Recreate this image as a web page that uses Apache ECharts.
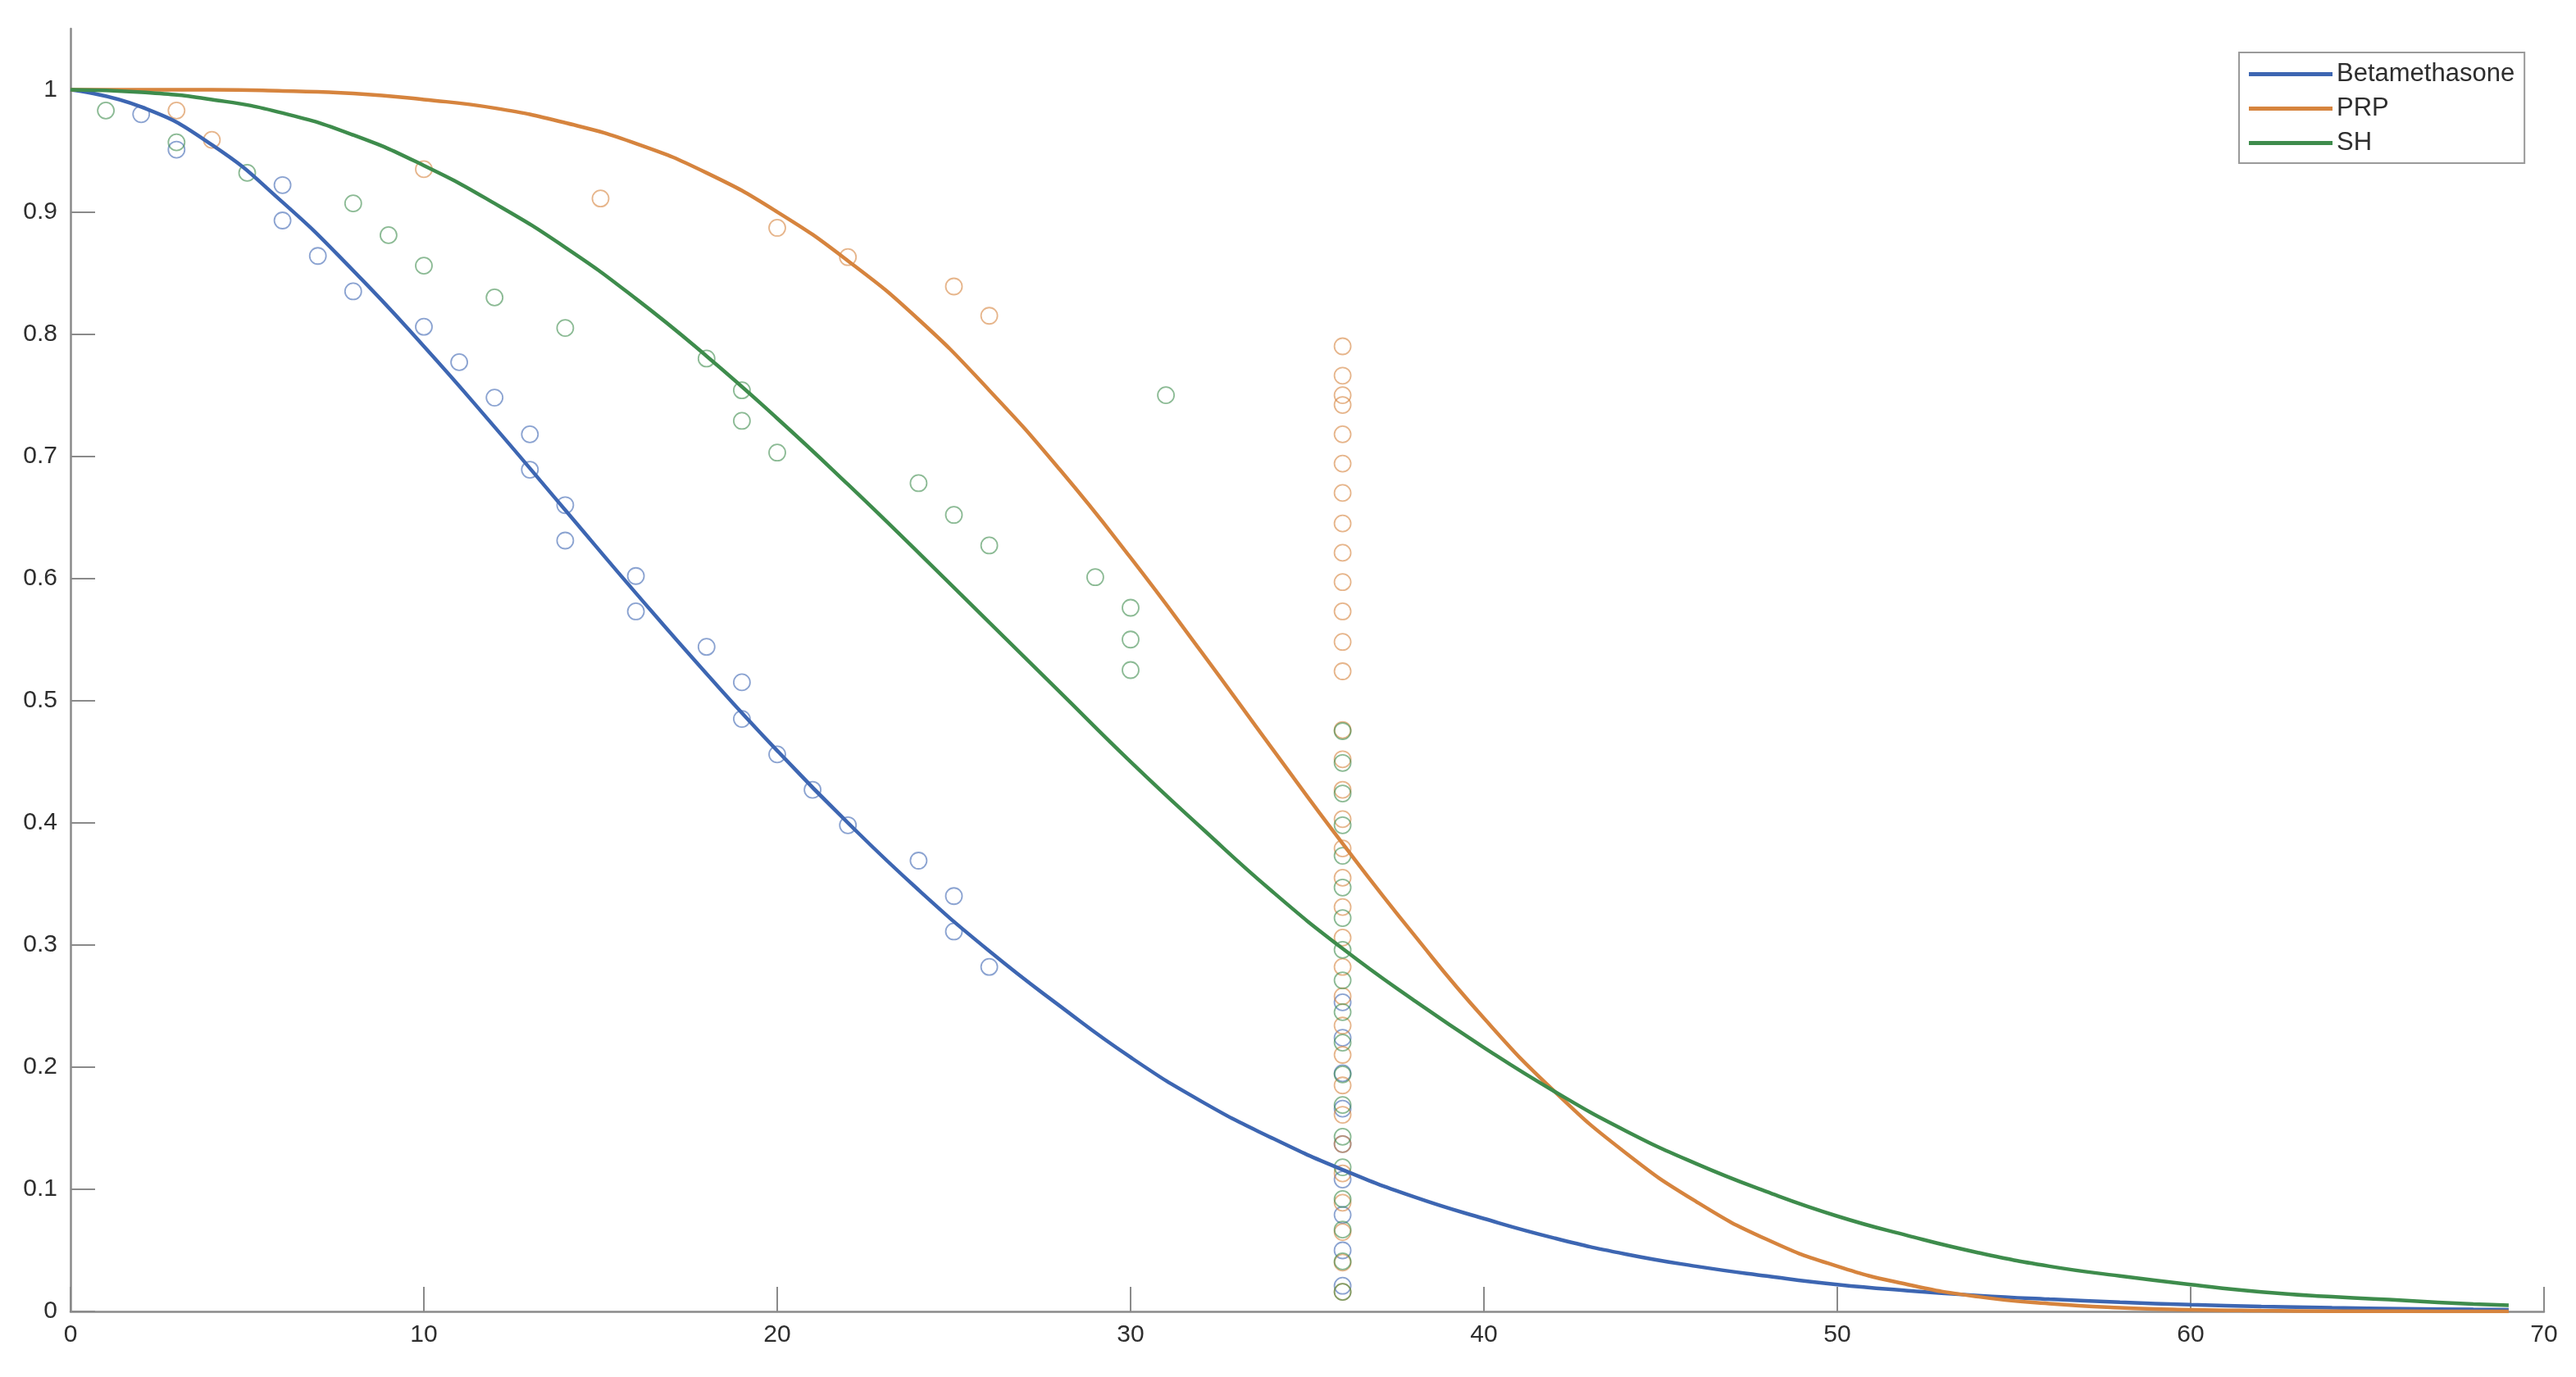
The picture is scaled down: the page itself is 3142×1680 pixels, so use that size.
<!DOCTYPE html>
<html>
<head>
<meta charset="utf-8">
<script src="https://cdn.jsdelivr.net/npm/echarts@6/dist/echarts.min.js"></script>
<style>
html,body{margin:0;padding:0;background:#fff;}
#chart{width:3142px;height:1680px;}
</style>
</head>
<body>
<div id="chart"></div>
<script>
// ---- data ----
var seriesNames = ['Betamethasone', 'PRP', 'SH'];
var xTicks = [0, 10, 20, 30, 40, 50, 60, 70];
var yTicks = [0, 0.1, 0.2, 0.3, 0.4, 0.5, 0.6, 0.7, 0.8, 0.9, 1];

// fitted curves, sampled along x
var curveX = [0,2,4,6,8,10,12,14,16,18,20,22,24,26,28,30,32,34,36,38,40,42,44,46,48,50,52,54,56,58,60,62,64,66,68,69];
var betaCurve = [1.000,0.986,0.955,0.908,0.852,0.790,0.724,0.656,0.588,0.522,0.459,0.400,0.345,0.295,0.250,0.208,0.172,0.142,0.116,0.094,0.076,0.060,0.047,0.037,0.029,0.022,0.017,0.013,0.010,0.0075,0.0056,0.0041,0.0030,0.0022,0.0016,0.0014];
var prpCurve  = [1.000,1.000,1.000,0.999,0.997,0.992,0.985,0.973,0.956,0.932,0.900,0.860,0.812,0.754,0.689,0.617,0.540,0.461,0.383,0.309,0.240,0.180,0.130,0.090,0.059,0.037,0.022,0.012,0.0064,0.0031,0.0014,0.0006,0.0002,0.0001,0.0000,0.0000];
var shCurve   = [1.000,0.998,0.992,0.981,0.963,0.938,0.907,0.871,0.829,0.782,0.731,0.677,0.621,0.564,0.507,0.450,0.396,0.344,0.297,0.255,0.216,0.180,0.148,0.121,0.098,0.078,0.062,0.048,0.037,0.029,0.022,0.016,0.012,0.009,0.006,0.005];

// observed points
var betaX = [2,3,6,6,7,8,10,11,12,13,13,14,14,16,16,18,19,19,20,21,22,24,25,25,26,36,36,36,36,36,36,36,36,36];
var betaY = [0.980,0.951,0.922,0.893,0.864,0.835,0.806,0.777,0.748,0.718,0.689,0.660,0.631,0.602,0.573,0.544,0.515,0.485,0.456,0.427,0.398,0.369,0.340,0.311,0.282,0.253,0.224,0.195,0.166,0.137,0.108,0.079,0.050,0.021];
var prpX = [3,4,10,15,20,22,25,26,36,36,36,36,36,36,36,36,36,36,36,36,36,36,36,36,36,36,36,36,36,36,36,36,36,36,36,36,36,36,36,36,36];
var prpY = [0.983,0.959,0.935,0.911,0.887,0.863,0.839,0.815,0.790,0.766,0.750,0.742,0.718,0.694,0.670,0.645,0.621,0.597,0.573,0.548,0.524,0.476,0.452,0.427,0.403,0.379,0.355,0.331,0.306,0.282,0.258,0.234,0.210,0.185,0.161,0.137,0.113,0.089,0.065,0.040,0.016];
var shX = [1,3,5,8,9,10,12,14,18,19,19,20,24,25,26,29,30,30,30,31,36,36,36,36,36,36,36,36,36,36,36,36,36,36,36,36,36,36,36];
var shY = [0.983,0.957,0.932,0.907,0.881,0.856,0.830,0.805,0.780,0.754,0.729,0.703,0.678,0.652,0.627,0.601,0.576,0.550,0.525,0.750,0.475,0.449,0.424,0.398,0.373,0.347,0.322,0.296,0.271,0.245,0.220,0.194,0.169,0.143,0.118,0.092,0.067,0.041,0.016];

// ---- styling ----
var colors = ['#3d66b2', '#d6843e', '#3e8c4c'];
var axisColor = '#8a8a8a';
var textColor = '#2e2e2e';
var font = "'Liberation Sans', Arial, Helvetica, sans-serif";

function pairs(xs, ys) { return xs.map(function (x, i) { return [x, ys[i]]; }); }

var scatterSets = [pairs(betaX, betaY), pairs(prpX, prpY), pairs(shX, shY)];
var curveSets = [pairs(curveX, betaCurve), pairs(curveX, prpCurve), pairs(curveX, shCurve)];

var series = [];
scatterSets.forEach(function (d, i) {
  series.push({
    name: seriesNames[i] + ' data',
    type: 'scatter',
    data: d,
    symbol: 'circle',
    symbolSize: 20,
    itemStyle: { color: 'rgba(255,255,255,0)', borderColor: colors[i], borderWidth: 1.8, opacity: 0.6 },
    emphasis: { disabled: true },
    silent: true,
    z: 2
  });
});
curveSets.forEach(function (d, i) {
  series.push({
    name: seriesNames[i],
    type: 'line',
    data: d,
    symbol: 'none',
    smooth: 0.5,
    lineStyle: { color: colors[i], width: 4.5 },
    itemStyle: { color: colors[i] },
    silent: true,
    z: 3
  });
});

var chart = echarts.init(document.getElementById('chart'), null, { renderer: 'canvas' });
chart.setOption({
  animation: false,
  backgroundColor: '#ffffff',
  grid: { left: 86, right: 39, top: 35, bottom: 80, containLabel: false },
  xAxis: {
    type: 'value',
    min: 0,
    max: 70,
    interval: 10,
    axisLine: { show: true, onZero: false, lineStyle: { color: axisColor, width: 2.5 } },
    axisTick: { show: true, inside: true, length: 30, lineStyle: { color: axisColor, width: 2 } },
    axisLabel: { show: true, margin: 14, color: textColor, fontSize: 30, fontFamily: font, customValues: xTicks },
    splitLine: { show: false }
  },
  yAxis: {
    type: 'value',
    min: 0,
    max: 1.05,
    axisLine: { show: true, onZero: false, lineStyle: { color: axisColor, width: 2.5 } },
    axisTick: { show: true, inside: true, length: 30, lineStyle: { color: axisColor, width: 2 }, customValues: yTicks },
    axisLabel: {
      show: true, margin: 16, color: textColor, fontSize: 30, fontFamily: font,
      customValues: yTicks,
      formatter: function (v) { return String(Math.round(v * 10) / 10); }
    },
    splitLine: { show: false }
  },
  legend: {
    data: seriesNames,
    orient: 'vertical',
    left: 2731,
    top: 64,
    icon: 'rect',
    itemWidth: 102,
    itemHeight: 5,
    itemGap: 11,
    itemTextGap: 10,
    padding: [11, 12, 9, 12],
    borderColor: '#9a9a9a',
    borderWidth: 2,
    backgroundColor: '#ffffff',
    selectedMode: false,
    textStyle: { color: textColor, fontSize: 31, fontFamily: font }
  },
  series: series
});
</script>
</body>
</html>
